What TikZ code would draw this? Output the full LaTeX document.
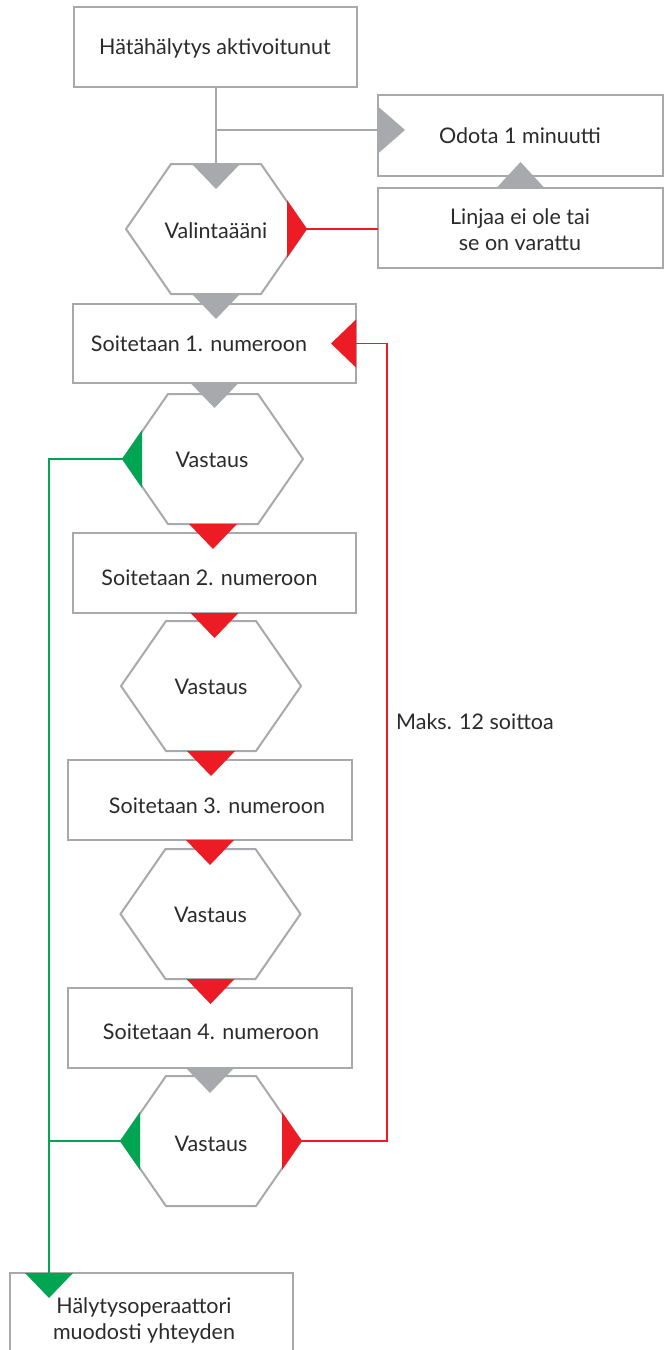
\documentclass[tikz,border=0pt]{standalone}
\usepackage{fontspec}
\setmainfont{Lato}
\definecolor{bordergray}{HTML}{A7A9AC}
\definecolor{tgray}{HTML}{A7A9AC}
\definecolor{fred}{HTML}{ED1C24}
\definecolor{fgreen}{HTML}{00A551}
\definecolor{txtc}{HTML}{2B2B2B}
\tikzset{
 boxst/.style={draw=bordergray, line width=2pt, fill=white, minimum width=283pt, minimum height=80pt, inner sep=0pt, outer sep=0pt},
 hexst/.style={minimum width=180pt, minimum height=130pt, inner sep=0pt, outer sep=0pt},
 hexline/.style={draw=bordergray, line width=2pt, fill=white},
 lbl/.style={text=txtc, font=\fontsize{21.5}{26}\selectfont, align=center, inner sep=0pt},
 grayline/.style={draw=bordergray, line width=2pt},
 redline/.style={draw=fred, line width=1.8pt},
 greenline/.style={draw=fgreen, line width=1.8pt},
}
\newcommand\hexdraw[3]{%
  \node[hexst] (#1) at (#2,#3) {};
  \draw[hexline] (#1.west) -- ++(45,-65) -- ++(90,0) -- ++(45,65) -- ++(-45,65) -- ++(-90,0) -- cycle;
}
\newcommand\dtri[2]{\fill[#1] #2 ++(-24,0) -- ++(48,0) -- ++(-24,25) -- cycle;}
\newcommand\ltri[2]{\fill[#1] ([xshift=-1pt]#2.west) -- ++(20,-28.9) -- ++(0,57.8) -- cycle;}
\newcommand\rtri[2]{\fill[#1] ([xshift=1pt]#2.east) -- ++(-20,-28.9) -- ++(0,57.8) -- cycle;}
\begin{document}
\begin{tikzpicture}[x=1pt,y=-1pt]
\useasboundingbox[fill=white] (0,0) rectangle (669,1350);
\coordinate (branch) at (217,130);
\coordinate (gx) at (49,0);
\coordinate (rx) at (387,0);
% boxes
\node[boxst] (b1) at (215.5,47) {};
\node[lbl] (t1) at (215,48) {Hätähälytys aktivoitunut};
\node[boxst, minimum width=285pt, minimum height=81pt] (odota) at (520.5,135.5) {};
\node[lbl] (t2) at (520,136) {Odota 1 minuutti};
\node[boxst, minimum width=285pt] (linjaa) at (520.5,228) {};
\node[lbl] (t3) at (520,230) {Linjaa ei ole tai\\se on varattu};
\hexdraw{valinta}{216}{229}
\node[lbl] (t4) at (216,231) {Valintaääni};
\node[boxst, minimum height=79pt] (s1) at (214.5,343.5) {};
\node[lbl] (t5) at (199,344) {Soitetaan 1. numeroon};
\hexdraw{v1}{213}{459}
\node[lbl] (t6) at (212,460) {Vastaus};
\node[boxst] (s2) at (214.5,573) {};
\node[lbl] (t7) at (209.5,578) {Soitetaan 2. numeroon};
\hexdraw{v2}{211}{686}
\node[lbl] (t8) at (211,687) {Vastaus};
\node[boxst, minimum width=284pt] (s3) at (210,800) {};
\node[lbl] (t9) at (217,806) {Soitetaan 3. numeroon};
\hexdraw{v3}{210.5}{914}
\node[lbl] (t10) at (210.5,915) {Vastaus};
\node[boxst, minimum width=284pt] (s4) at (210,1028) {};
\node[lbl] (t11) at (211,1032) {Soitetaan 4. numeroon};
\hexdraw{v4}{211}{1141}
\node[lbl] (t12) at (211,1144) {Vastaus};
\node[boxst, minimum height=120pt] (final) at (151.5,1333) {};
\node[lbl] (t13) at (144,1320) {Hälytysoperaattori\\muodosti yhteyden};
\node[lbl, anchor=west] (maks) at (396,722) {Maks. 12 soittoa};
% connectors
\draw[grayline] (b1.south) -- (b1.south |- valinta.north);
\draw[grayline] (branch) -- (branch -| odota.west);
\draw[redline] (valinta.east) -- (valinta.east -| linjaa.west);
\draw[redline] (v4.east) -| (rx |- s1.east) -- (s1.east);
\draw[greenline] (v1.west) -- (v1.west -| gx) -- (gx |- final.north);
\draw[greenline] (v4.west) -- (v4.west -| gx);
% arrowheads
\fill[tgray] (branch -| odota.west) ++(0,-23.5) -- ++(27,23.5) -- ++(-27,23.5) -- cycle;
\fill[tgray] (linjaa.north) ++(-24,0) -- ++(48,0) -- ++(-24,-26) -- cycle;
\dtri{tgray}{(valinta.north)}
\dtri{tgray}{(valinta.south)}
\dtri{tgray}{(s1.south)}
\dtri{fred}{(v1.south)}
\dtri{fred}{(s2.south)}
\dtri{fred}{(v2.south)}
\dtri{fred}{(s3.south)}
\dtri{fred}{(v3.south)}
\dtri{tgray}{(s4.south)}
\dtri{fgreen}{(gx |- final.north)}
\fill[fred] (s1.east) ++(0,-24) -- ++(0,48) -- ++(-25,-24) -- cycle;
\rtri{fred}{valinta}
\ltri{fgreen}{v1}
\ltri{fgreen}{v4}
\rtri{fred}{v4}
\end{tikzpicture}
\end{document}
